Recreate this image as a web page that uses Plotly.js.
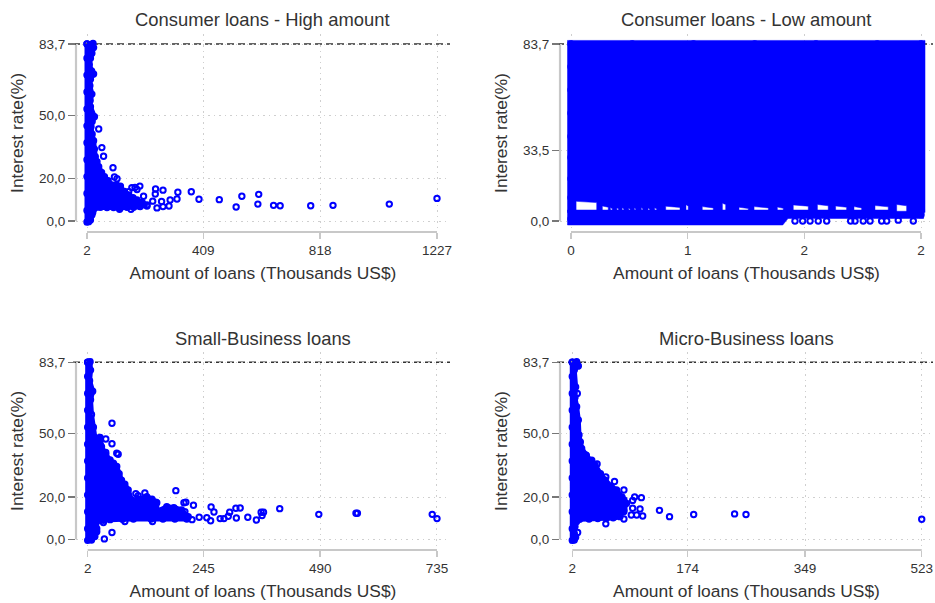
<!DOCTYPE html>
<html><head><meta charset="utf-8">
<script src="https://cdn.plot.ly/plotly-3.0.1.min.js"></script>
<style>html,body{margin:0;padding:0;background:#fff}#c{width:935px;height:603px}</style>
</head><body><div id="c"></div>
<script>
const yTickVals=[0,20,50,83.7], yTickText=['0,0','20,0','50,0','83,7'];
const yTickValsLow=[0,33.5,83.7], yTickTextLow=['0,0','33,5','83,7'];
const titles=['Consumer loans - High amount','Consumer loans - Low amount','Small-Business loans','Micro-Business loans'];
const xTitle='Amount of loans (Thousands US$)', yTitle='Interest rate(%)';
const cap=83.7;

// Consumer high
const highX=[1227,1060,863,785,678,655,600,603,544,524,465,394,367,320,317,293,289,268,263,268,247,242,241,232,200,187,170,159,177,93,98,107,119,60,54,43,156,116,212,188,165,148];
const highY=[10.7,8.0,7.4,7.2,7.2,7.4,8.0,12.6,11.7,6.6,10.1,10.3,13.8,13.6,10.4,9.9,7.1,14.6,9.2,6.8,6.2,15.1,12.8,9.4,11.7,16.5,15.9,15.8,14.9,25.2,20.8,20.0,16.5,30.6,34.7,43.5,5.5,5.5,7.1,7.1,9.9,13.9];
const highDenseX=[2,23,25,19,14,10,18,25,14,12,19,13,14,28,20,16,20,25,28,31,37,43,53,63,76,89,105,119,133,148,163,177,195,212,188,165,142,118,95,72,49,25,22,19,14,8,2,2,2,2,2,2,2,2,2,2,2,2];
const highDenseY=[83.7,84,82,79.3,77,74,71,69.5,67,64,60,57,54,49.3,47,44.6,41,38,34,30.4,28,25.7,23,21,19,17,17,15.9,14,12.3,11,9.9,8.8,7.6,6.8,6.5,6.5,6.2,6.4,6.4,6.5,5.5,4,2.8,0.5,-0.3,-0.5,5,13,21,29,37,45,53,61,69,77,83.7];

// Consumer low: lower edge of the dense block is broken by small white gaps
const lowGapFrom=[0.029,0.179,0.225,0.262,0.292,0.33,0.362,0.402,0.44,0.478,0.541,0.657,0.75,0.865,0.96,1.046,1.179,1.27,1.408,1.512,1.617,1.737,1.861];
const lowGapTo=[0.147,0.213,0.236,0.272,0.302,0.338,0.37,0.41,0.45,0.49,0.623,0.67,0.813,0.884,1.013,1.128,1.213,1.356,1.47,1.575,1.661,1.813,1.918];
const lowGapTop=[9.3,7.1,6.4,6.3,6.3,6.2,6.3,6.4,6.2,6.3,7.0,7.7,6.8,8.4,6.5,6.8,6.6,7.6,7.8,7.1,6.8,7.3,7.8];
const lowStripX=[-0.02,1.817,1.817,2.015,2.015,1.24,1.21,-0.02,-0.02];
const lowStripY=[5.2,5.2,4.6,4.6,1.2,1.2,-1.9,-1.9,5.2];
const lowEdgeX=[0,0,0,0,0,0,0,0,0,2,2,2,2,2,2,2,2,2,2,0.35,0.7,1.05,1.4,1.75];
const lowEdgeY=[83.7,73,62,51,40,30,20,11,1,83.7,75,66,58,47,36,27,17,11,3,83.7,83.7,83.7,83.7,83.7];
const lowX=[1.28,1.324,1.366,1.413,1.461,1.598,1.623,1.67,1.709,1.775,1.804,1.87,1.956];
const lowY=[0,0,0,0,0,0,0,0,0,0,0,0.4,0];

// Small business
const smallX=[735,725,568,565,487,405,371,368,366,356,338,322,313,314,300,297,288,280,267,261,260,252,236,224,221,208,204,187,145,138,122,103,108,87,80,59,66,63,53,53,40,40,28,37,53,35,168,161,206,133];
const smallY=[9.8,11.8,12.3,12.3,11.8,14.5,12.8,11.2,12.8,9.1,10.4,14.8,14.7,10.1,12.8,10.9,9.8,9.8,12.9,15.3,8.8,10.2,10.4,16.1,9.3,17.5,17.3,23,17.5,8.4,21.9,21.6,20.6,20.5,8.4,34.8,40.2,40.7,54.9,45.2,47.4,41.1,44.9,0.2,3.2,7.9,13.9,13.1,13.1,18.6];
const smallDenseX=[2,7,8,6,12.5,8,10,14,17,28,31,40,49,56,63,68,73,80,87,94,110,126,137,147,147,168,183,199,213,210,185,160,135,98,75,49,35,21,21,21,17,10,2,2,2,2,2,2,2,2,2,2,2,2];
const smallDenseY=[83.7,84,80,75,70,66,59,53,48.2,48.2,43.8,40,37.5,36,34.4,31,28,26,23.3,18.6,19,20.2,19,17.3,13.1,15.4,15,13.9,10.7,9.6,9.6,9.6,9.6,9.6,9.5,9.3,9,8.4,5,3.6,1.3,-0.3,-0.5,5,13,21,29,37,45,53,61,69,77,83.7];

// Micro business
const microX=[523,261,244,183,147,132,105,107,103,98,92,95,92,79,79,79,79,65,65,52,52,39,31,22,11,10,9.5,63,90];
const microY=[9.5,11.7,12,11.7,10.7,13.7,19.7,11,14.3,11.5,14.7,20,18.4,23.3,18.6,13.1,9.6,27.3,10.7,29.5,7.3,35.6,37.4,39.9,82,3.2,69,21.8,11.5];
const microDenseX=[2,8.5,10,5,7,6,8.5,11,12,14,16,23,30,36,44,51,60,68,76,83,79,73,63,53,40,27,13,8.5,6,5,7,5,2,2,2,2,2,2,2,2,2,2,2,2];
const microDenseY=[83.7,84,82,80,72,67,62.7,56.4,49.3,46,43,39.7,37,35.2,31,28,25,23.3,20,17,14,10.7,10.2,10,9.8,9.6,9.5,8.4,6,2.8,1,-0.3,-0.5,5,13,21,29,37,45,53,61,69,77,83.7];

// Outline of the low-amount dense block, built from the gap table above
const lowUpperX=[-0.02,2.023,2.023,1.93], lowUpperY=[85.4,85.4,4,4];
for(let i=lowGapFrom.length-1;i>=0;i--){
 lowUpperX.push(lowGapTo[i],lowGapTo[i],lowGapFrom[i],lowGapFrom[i]);
 lowUpperY.push(4,lowGapTop[i]-0.6,lowGapTop[i],4);
}
lowUpperX.push(-0.02,-0.02); lowUpperY.push(4,85.4);

const BLUE='#0000ff', INK='#333333', FRAME='#c8c8c8', GRID='#cfcfcf';
const marker={symbol:'circle-open',size:5.4,color:BLUE,line:{width:2,color:BLUE}};
const W=935,H=603;
const panels=[
 {l:76,r:450,t:34,b:232,xr:[-36.5,1272.5],yr:[-5.2,88.43],xt:[2,409,818,1227],xl:['2','409','818','1227'],yv:yTickVals,yl:yTickText,tx:262,ty:20},
 {l:560,r:933,t:34,b:232,xr:[-0.0629,2.0686],yr:[-5.2,88.43],xt:[0,0.6667,1.3333,2],xl:['0','1','2','2'],yv:yTickValsLow,yl:yTickTextLow,tx:746,ty:20},
 {l:76,r:450,t:352,b:550,xr:[-22.5,762.3],yr:[-5.06,88.57],xt:[2,245,490,735],xl:['2','245','490','735'],yv:yTickVals,yl:yTickText,tx:262.5,ty:338},
 {l:560,r:933,t:352,b:550,xr:[-16.3,539.8],yr:[-5.06,88.57],xt:[2,174,349,523],xl:['2','174','349','523'],yv:yTickVals,yl:yTickText,tx:746,ty:338}
];
const layout={width:W,height:H,margin:{l:0,r:0,t:0,b:0},showlegend:false,paper_bgcolor:'#fff',plot_bgcolor:'#fff',
 font:{family:'"Liberation Sans",Arial,sans-serif',color:INK},annotations:[],shapes:[]};
panels.forEach((p,i)=>{
 const n=i+1, xa='x'+n, ya='y'+n;
 layout['xaxis'+n]={domain:[p.l/W,p.r/W],range:p.xr,anchor:ya,tickmode:'array',tickvals:p.xt,ticktext:p.xl,ticks:'outside',ticklen:6,tickwidth:1.5,tickcolor:FRAME,
  tickfont:{size:13.5,color:INK},showline:false,zeroline:false,showgrid:true,gridcolor:GRID,griddash:'1.5px,4px',gridwidth:1,
  title:{text:xTitle,font:{size:17.4,color:INK},standoff:9}};
 layout['yaxis'+n]={domain:[1-p.b/H,1-p.t/H],range:p.yr,anchor:xa,tickmode:'array',tickvals:p.yv,ticktext:p.yl,ticks:'outside',ticklen:7,tickwidth:1.2,tickcolor:'#777',
  tickfont:{size:13.5,color:INK},showline:false,zeroline:false,showgrid:true,gridcolor:GRID,griddash:'1.5px,4px',gridwidth:1,
  title:{text:yTitle,font:{size:17.4,color:INK},standoff:10}};
 layout.annotations.push({text:titles[i],xref:'paper',yref:'paper',x:p.tx/W,y:1-p.ty/H,xanchor:'center',yanchor:'middle',showarrow:false,font:{size:18.4,color:INK}});
 layout.shapes.push({type:'line',xref:xa+' domain',yref:ya,x0:0,x1:0,y0:0,y1:cap,line:{color:FRAME,width:2.2},layer:'below'});
 layout.shapes.push({type:'line',xref:xa,yref:ya+' domain',x0:p.xt[0],x1:p.xt[3],y0:0,y1:0,line:{color:FRAME,width:2},layer:'below'});
 layout.shapes.push({type:'line',xref:xa+' domain',yref:ya,x0:-0.008,x1:1,y0:cap,y1:cap,line:{color:'#333',width:1.5,dash:'7px,4px'},layer:'below'});
});
const dense=(x,y,a,withMarkers)=>({type:'scatter',mode:withMarkers?'lines+markers':'lines',x,y,xaxis:'x'+a,yaxis:'y'+a,fill:'toself',fillcolor:BLUE,line:{color:BLUE,width:withMarkers?5:0.5,simplify:false},marker,hoverinfo:'skip'});
const pts=(x,y,a)=>({type:'scatter',mode:'markers',x,y,xaxis:'x'+a,yaxis:'y'+a,marker,hoverinfo:'skip'});
const data=[
 dense(highDenseX,highDenseY,1,true),pts(highX,highY,1),
 dense(lowUpperX,lowUpperY,2,false),dense(lowStripX,lowStripY,2,false),pts(lowX,lowY,2),pts(lowEdgeX,lowEdgeY,2),
 dense(smallDenseX,smallDenseY,3,true),pts(smallX,smallY,3),
 dense(microDenseX,microDenseY,4,true),pts(microX,microY,4)
];
Plotly.newPlot('c',data,layout,{displayModeBar:false,staticPlot:true});
</script></body></html>
